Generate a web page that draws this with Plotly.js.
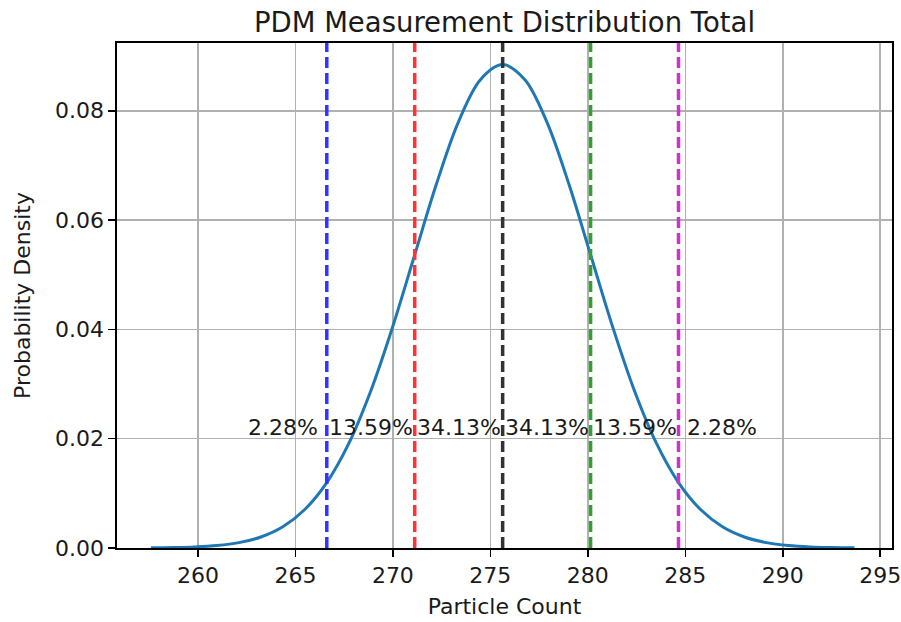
<!DOCTYPE html>
<html>
<head>
<meta charset="utf-8">
<script src="https://cdn.plot.ly/plotly-3.0.1.min.js"></script>
<style>html,body{margin:0;padding:0;background:#fff;}#chart{width:901px;height:622px;}</style>
</head>
<body>
<div id="chart"></div>
<script>
// Curve (particle count vs probability density)
const curveX = [257.59, 258.72, 259.85, 260.97, 262.10, 263.23, 264.355, 265.48, 266.61, 267.74, 268.865,
  269.99, 271.12, 272.25, 273.375, 274.50, 275.63, 276.76, 277.885, 279.01, 280.14, 281.27, 282.395,
  283.52, 284.65, 285.78, 286.905, 288.03, 289.16, 290.29, 291.415, 292.54, 293.67];
const curveY = [0.0000296, 0.0000782, 0.000193, 0.000450, 0.000983, 0.002016, 0.003887, 0.00704, 0.01197,
  0.01913, 0.02872, 0.04049, 0.05365, 0.06677, 0.07806, 0.08573, 0.08845, 0.08573, 0.07806, 0.06677,
  0.05365, 0.04049, 0.02872, 0.01913, 0.01197, 0.00704, 0.003887, 0.002016, 0.000983, 0.000450,
  0.000193, 0.0000782, 0.0000296];

// Vertical reference lines (mean ± k·sigma)
const lineX = [266.61, 271.12, 275.63, 280.14, 284.65];
const lineColors = ['#3333ff', '#ff3333', '#333333', '#33a033', '#cc33cc'];

// Percentage labels
const labelX = [264.355, 268.865, 273.375, 277.885, 282.395, 286.905];
const labelText = ['2.28%', '13.59%', '34.13%', '34.13%', '13.59%', '2.28%'];
const labelY = 0.0221;

const xTicks = [260, 265, 270, 275, 280, 285, 290, 295];
const yTicks = [0.00, 0.02, 0.04, 0.06, 0.08];

const font = 'DejaVu Sans, sans-serif';
const fs = 22;

const traces = [{
  x: curveX, y: curveY, type: 'scatter', mode: 'lines',
  line: {color: '#1f77b4', width: 3, shape: 'spline', smoothing: 1},
  hoverinfo: 'skip', showlegend: false
}];

const shapes = lineX.map((x, i) => ({
  type: 'line', xref: 'x', yref: 'y domain', x0: x, x1: x, y0: 0, y1: 1,
  line: {color: lineColors[i], width: 3.5, dash: '11px,5px'}, layer: 'above'
}));

const annotations = labelX.map((x, i) => ({
  x: x, y: labelY, xref: 'x', yref: 'y', text: labelText[i], showarrow: false,
  font: {family: font, size: fs, color: '#1a1a1a'}, xanchor: 'center', yanchor: 'middle'
}));

const layout = {
  width: 901, height: 622,
  margin: {l: 117, r: 9, t: 43, b: 74},
  paper_bgcolor: '#ffffff', plot_bgcolor: '#ffffff',
  title: {text: 'PDM Measurement Distribution Total', font: {family: font, size: 27.5, color: '#1a1a1a'},
    x: 0.5, xanchor: 'center', xref: 'paper', y: 1, yref: 'paper', yanchor: 'bottom', pad: {b: 11}},
  xaxis: {
    range: [255.85, 295.6], tickvals: xTicks, ticktext: xTicks.map(String),
    ticks: 'outside', ticklen: 7, tickwidth: 1.6, tickcolor: '#000',
    ticklabeloverflow: 'allow',
    showgrid: true, gridcolor: '#b0b0b0', gridwidth: 1.6,
    showline: true, linecolor: '#000', linewidth: 1.6, mirror: true, zeroline: false,
    tickfont: {family: font, size: fs, color: '#1a1a1a'},
    title: {text: 'Particle Count', font: {family: font, size: fs, color: '#1a1a1a'}, standoff: 11}
  },
  yaxis: {
    range: [0, 0.0924], tickvals: yTicks, ticktext: yTicks.map(v => v.toFixed(2)),
    ticks: 'outside', ticklen: 7, tickwidth: 1.6, tickcolor: '#000',
    ticklabeloverflow: 'allow',
    showgrid: true, gridcolor: '#b0b0b0', gridwidth: 1.6,
    showline: true, linecolor: '#000', linewidth: 1.6, mirror: true, zeroline: false,
    tickfont: {family: font, size: fs, color: '#1a1a1a'},
    title: {text: 'Probability Density', font: {family: font, size: fs, color: '#1a1a1a'}, standoff: 18}
  },
  shapes: shapes,
  annotations: annotations,
  showlegend: false
};

Plotly.newPlot('chart', traces, layout, {displayModeBar: false, staticPlot: true});
</script>
</body>
</html>
